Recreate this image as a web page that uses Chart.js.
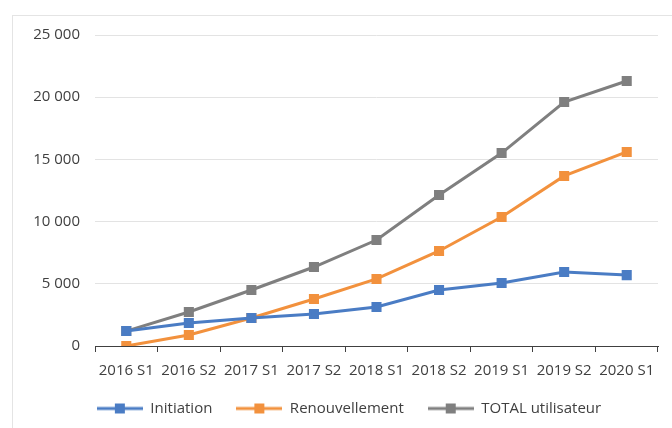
<!DOCTYPE html>
<html lang="fr">
<head>
  <meta charset="UTF-8" />
  <title>Utilisateurs par semestre</title>
  <script src="https://cdn.jsdelivr.net/npm/chart.js"></script>
  <style>
    html, body { margin: 0; padding: 0; background: #fff; }
    #wrap { position: relative; width: 672px; height: 428px; overflow: hidden; }
    #frame { position: absolute; left: 12px; top: 15px; width: 700px; height: 500px; border: 1px solid #e4e4e4; box-sizing: border-box; }
    canvas { position: absolute; left: 0; top: 0; }
  </style>
</head>
<body>
  <div id="wrap">
    <div id="frame"></div>
    <canvas id="chart" width="672" height="428"></canvas>
  </div>

  <script>
    const semestres = ['2016 S1', '2016 S2', '2017 S1', '2017 S2', '2018 S1', '2018 S2', '2019 S1', '2019 S2', '2020 S1'];
    const initiation = [1200, 1850, 2250, 2570, 3130, 4500, 5060, 5950, 5700];
    const renouvellement = [0, 880, 2250, 3780, 5390, 7640, 10370, 13670, 15600];
    const totalUtilisateur = [1200, 2730, 4500, 6350, 8520, 12140, 15510, 19610, 21300];

    const blue = '#4a7cc4';
    const orange = '#f2913d';
    const grey = '#7f7f7f';
    const txt = '#404040';
    const font = { family: 'Open Sans', size: 15 };

    // small legend icon: line with a square in the middle
    function legendIcon(color) {
      const c = document.createElement('canvas');
      c.width = 46; c.height = 12;
      const ctx = c.getContext('2d');
      ctx.strokeStyle = color;
      ctx.lineWidth = 3;
      ctx.beginPath(); ctx.moveTo(0, 6); ctx.lineTo(46, 6); ctx.stroke();
      ctx.fillStyle = color;
      ctx.fillRect(18, 1, 10, 10);
      return c;
    }

    function serie(label, data, color) {
      return {
        label, data,
        borderColor: color,
        backgroundColor: color,
        borderWidth: 3,
        pointStyle: 'rect',
        pointRadius: 5,
        pointHoverRadius: 5,
        tension: 0,
        icon: legendIcon(color)
      };
    }

    const fmt = v => v === 0 ? '0' : String(v).replace(/\B(?=(\d{3})+(?!\d))/g, ' ');

    // legend sits a bit right of centre in the original
    const shiftLegend = {
      id: 'shiftLegend',
      afterLayout(chart) {
        chart.legend.left += 20;
        chart.legend.right += 20;
      }
    };

    new Chart(document.getElementById('chart'), {
      type: 'line',
      data: {
        labels: semestres,
        datasets: [
          serie('Initiation', initiation, blue),
          serie('Renouvellement', renouvellement, orange),
          serie('TOTAL utilisateur', totalUtilisateur, grey)
        ]
      },
      plugins: [shiftLegend],
      options: {
        responsive: false,
        animation: false,
        layout: { padding: { left: 0, right: 14, top: 35, bottom: 2 } },
        plugins: {
          tooltip: { enabled: false },
          legend: {
            position: 'bottom',
            labels: {
              usePointStyle: true,
              pointStyleWidth: 46,
              boxHeight: 12,
              padding: 24,
              color: txt,
              font: font,
              generateLabels: chart => chart.data.datasets.map((ds, i) => ({
                text: ds.label,
                pointStyle: ds.icon,
                fillStyle: ds.borderColor,
                strokeStyle: ds.borderColor,
                lineWidth: 0,
                fontColor: txt,
                datasetIndex: i
              }))
            }
          }
        },
        scales: {
          x: {
            offset: true,
            afterFit: s => { s.height = s.height - 13; },
            grid: { offset: true, drawOnChartArea: false, drawTicks: true, tickLength: 6, color: txt },
            border: { display: true, color: txt, width: 1 },
            ticks: { color: txt, maxRotation: 0, padding: 10, font: font }
          },
          y: {
            min: 0, max: 25000,
            afterFit: s => { s.width = 95; },
            grid: { color: '#e3e3e3', drawTicks: false },
            border: { display: false },
            ticks: { stepSize: 5000, padding: 15, color: txt, font: font, callback: fmt }
          }
        }
      }
    });
  </script>
</body>
</html>
